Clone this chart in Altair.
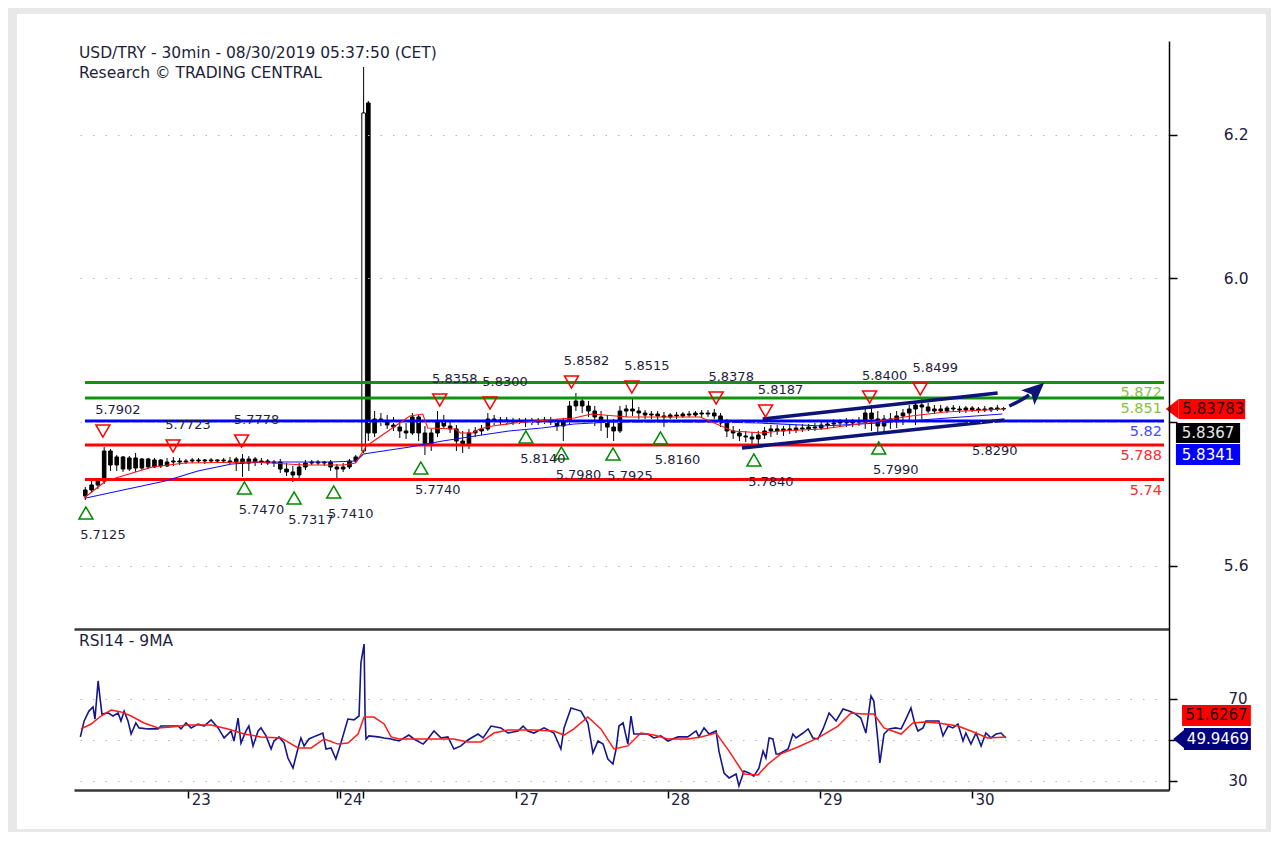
import altair as alt
import pandas as pd

# ---------------- data ----------------
X_MAX = 345                      # x = 30-minute bar number from the left edge
PRICE_DOMAIN = [5.5117, 6.3306]
RSI_DOMAIN = [25.6, 104.15]

candle_x = list(range(2, 90, 2)) + [90.5, 92] + list(range(94, 296, 2))
opens = [5.6969, 5.7053, 5.7123, 5.7178, 5.7596, 5.7401, 5.7513, 5.7345, 5.7499, 5.7359,
         5.7485, 5.7373, 5.7471, 5.7387, 5.7443, 5.7457, 5.7443, 5.7457, 5.7471, 5.7457,
         5.7471, 5.7457, 5.7471, 5.7457, 5.7443, 5.7485, 5.7429, 5.7485, 5.7443, 5.7457,
         5.7429, 5.7443, 5.7345, 5.7304, 5.7262, 5.7373, 5.7429, 5.7443, 5.7429, 5.7443,
         5.7373, 5.7345, 5.7373, 5.7457,
         5.7596, 6.2443,
         5.7847, 5.8042, 5.8014, 5.7958, 5.7930, 5.7875, 5.7847, 5.8070, 5.7847, 5.7680,
         5.7847, 5.8014, 5.7944, 5.7903, 5.7735, 5.7680, 5.7847, 5.7875, 5.7903, 5.8042,
         5.8014, 5.8028, 5.8000, 5.8014, 5.8000, 5.8014, 5.8000, 5.8014, 5.8028, 5.8000,
         5.7944, 5.8014, 5.8223, 5.8292, 5.8223, 5.8153, 5.8070, 5.8014, 5.7930, 5.7875,
         5.8153, 5.8181, 5.8153, 5.8125, 5.8097, 5.8111, 5.8084, 5.8070, 5.8097, 5.8084,
         5.8111, 5.8097, 5.8125, 5.8111, 5.8125, 5.8084, 5.7986, 5.7875, 5.7847, 5.7805,
         5.7791, 5.7763, 5.7819, 5.7875, 5.7903, 5.7875, 5.7903, 5.7889, 5.7916, 5.7903,
         5.7930, 5.7916, 5.7958, 5.7972, 5.7986, 5.8000, 5.7986, 5.8014, 5.8000, 5.8125,
         5.8042, 5.7944, 5.8042, 5.8014, 5.8084, 5.8125, 5.8181, 5.8237, 5.8209, 5.8153,
         5.8181, 5.8153, 5.8195, 5.8181, 5.8167, 5.8195, 5.8167, 5.8181, 5.8167, 5.8195,
         5.8181]
highs = [5.7095, 5.7178, 5.7220, 5.7652, 5.7624, 5.7540, 5.7526, 5.7526, 5.7568, 5.7499,
         5.7499, 5.7499, 5.7485, 5.7499, 5.7513, 5.7499, 5.7485, 5.7499, 5.7499, 5.7485,
         5.7499, 5.7485, 5.7499, 5.7513, 5.7513, 5.7554, 5.7526, 5.7513, 5.7499, 5.7485,
         5.7471, 5.7485, 5.7429, 5.7387, 5.7429, 5.7471, 5.7471, 5.7471, 5.7457, 5.7471,
         5.7415, 5.7429, 5.7485, 5.7540,
         6.2944, 6.2471,
         5.8153, 5.8125, 5.8097, 5.8070, 5.8014, 5.7986, 5.8125, 5.8097, 5.7944, 5.7903,
         5.8153, 5.8097, 5.8014, 5.7958, 5.7875, 5.7903, 5.7930, 5.7958, 5.8125, 5.8097,
         5.8070, 5.8070, 5.8056, 5.8056, 5.8056, 5.8056, 5.8056, 5.8070, 5.8070, 5.8042,
         5.8056, 5.8292, 5.8404, 5.8320, 5.8292, 5.8223, 5.8153, 5.8097, 5.8042, 5.8223,
         5.8237, 5.8320, 5.8209, 5.8167, 5.8153, 5.8153, 5.8139, 5.8125, 5.8139, 5.8139,
         5.8153, 5.8153, 5.8167, 5.8167, 5.8181, 5.8125, 5.8042, 5.7944, 5.7903, 5.7875,
         5.7861, 5.7875, 5.7930, 5.7958, 5.7958, 5.7944, 5.7958, 5.7958, 5.7972, 5.7972,
         5.7986, 5.8000, 5.8028, 5.8042, 5.8042, 5.8056, 5.8042, 5.8070, 5.8181, 5.8237,
         5.8153, 5.8097, 5.8125, 5.8153, 5.8181, 5.8237, 5.8292, 5.8320, 5.8265, 5.8237,
         5.8237, 5.8223, 5.8237, 5.8223, 5.8223, 5.8223, 5.8209, 5.8223, 5.8209, 5.8237,
         5.8209]
lows = [5.6914, 5.7011, 5.7067, 5.7136, 5.7318, 5.7318, 5.7304, 5.7318, 5.7304, 5.7331,
        5.7345, 5.7359, 5.7359, 5.7373, 5.7387, 5.7401, 5.7415, 5.7429, 5.7429, 5.7415,
        5.7429, 5.7429, 5.7429, 5.7415, 5.7318, 5.7234, 5.7318, 5.7387, 5.7401, 5.7401,
        5.7373, 5.7290, 5.7248, 5.7164, 5.7220, 5.7331, 5.7401, 5.7401, 5.7387, 5.7318,
        5.7220, 5.7304, 5.7345, 5.7429,
        5.7568, 5.7735,
        5.7791, 5.7944, 5.7903, 5.7875, 5.7777, 5.7763, 5.7819, 5.7735, 5.7540, 5.7596,
        5.7791, 5.7903, 5.7847, 5.7596, 5.7568, 5.7624, 5.7791, 5.7819, 5.7875, 5.7958,
        5.7958, 5.7958, 5.7958, 5.7972, 5.7930, 5.7958, 5.7958, 5.7972, 5.7958, 5.7875,
        5.7735, 5.7958, 5.8153, 5.8125, 5.8070, 5.7944, 5.7875, 5.7777, 5.7735, 5.7847,
        5.8070, 5.8084, 5.8042, 5.8042, 5.8042, 5.8014, 5.7930, 5.8042, 5.8042, 5.8056,
        5.8070, 5.8070, 5.8070, 5.8070, 5.8042, 5.7930, 5.7791, 5.7763, 5.7735, 5.7721,
        5.7680, 5.7652, 5.7763, 5.7791, 5.7819, 5.7805, 5.7833, 5.7847, 5.7861, 5.7875,
        5.7875, 5.7889, 5.7903, 5.7916, 5.7930, 5.7930, 5.7930, 5.7944, 5.7903, 5.7875,
        5.7833, 5.7847, 5.7903, 5.7916, 5.7958, 5.8014, 5.7958, 5.8042, 5.8125, 5.8111,
        5.8125, 5.8125, 5.8139, 5.8125, 5.8125, 5.8139, 5.8125, 5.8139, 5.8139, 5.8153,
        5.8153]
closes = [5.7053, 5.7123, 5.7178, 5.7596, 5.7401, 5.7513, 5.7345, 5.7499, 5.7359, 5.7485,
          5.7373, 5.7471, 5.7387, 5.7443, 5.7457, 5.7443, 5.7457, 5.7471, 5.7457, 5.7471,
          5.7457, 5.7471, 5.7457, 5.7443, 5.7485, 5.7429, 5.7485, 5.7443, 5.7457, 5.7429,
          5.7443, 5.7345, 5.7304, 5.7262, 5.7373, 5.7429, 5.7443, 5.7429, 5.7443, 5.7373,
          5.7345, 5.7373, 5.7457, 5.7513,
          6.2304, 5.7847,
          5.8042, 5.8014, 5.7958, 5.7930, 5.7875, 5.7847, 5.8070, 5.7847, 5.7680, 5.7847,
          5.8014, 5.7944, 5.7903, 5.7735, 5.7680, 5.7847, 5.7875, 5.7903, 5.8042, 5.8014,
          5.8028, 5.8000, 5.8014, 5.8000, 5.8014, 5.8000, 5.8014, 5.8028, 5.8000, 5.7944,
          5.8014, 5.8223, 5.8292, 5.8223, 5.8153, 5.8070, 5.8014, 5.7930, 5.7875, 5.8153,
          5.8181, 5.8153, 5.8125, 5.8097, 5.8111, 5.8084, 5.8070, 5.8097, 5.8084, 5.8111,
          5.8097, 5.8125, 5.8111, 5.8125, 5.8084, 5.7986, 5.7875, 5.7847, 5.7805, 5.7791,
          5.7763, 5.7819, 5.7875, 5.7903, 5.7875, 5.7903, 5.7889, 5.7916, 5.7903, 5.7930,
          5.7916, 5.7958, 5.7972, 5.7986, 5.8000, 5.7986, 5.8014, 5.8000, 5.8125, 5.8042,
          5.7944, 5.8042, 5.8014, 5.8084, 5.8125, 5.8181, 5.8237, 5.8209, 5.8153, 5.8181,
          5.8153, 5.8195, 5.8181, 5.8167, 5.8195, 5.8167, 5.8181, 5.8167, 5.8195, 5.8181,
          5.8188]

ma_red_x = [1.6, 8.5, 23.3, 33.7, 55.8, 71.5, 84.1, 87.9, 91.4, 105.2, 109.3, 110.9, 119.7,
            121.3, 125.1, 127.3, 131.4, 138.6, 152.5, 157.5, 162.9, 174.5, 197.5, 207.9,
            217.4, 222.7, 236.3, 250.2, 264.6, 275.4, 294.3]
ma_red_y = [5.6942, 5.7178, 5.7373, 5.7429, 5.7443, 5.7401, 5.7401, 5.7429, 5.7666, 5.8084,
            5.8111, 5.7916, 5.7903, 5.7847, 5.7847, 5.7903, 5.7944, 5.7986, 5.8042, 5.8056,
            5.8111, 5.8070, 5.8070, 5.7875, 5.7847, 5.7875, 5.7903, 5.7986, 5.8084, 5.8139,
            5.8181]
ma_blue_x = [2.2, 17.0, 27.4, 37.8, 48.5, 58.9, 80.0, 88.2, 90.4, 105.2, 115.6, 126.0, 136.7,
             147.1, 157.5, 169.2, 201.6, 216.4, 236.3, 254.3, 276.3, 293.6]
ma_blue_y = [5.6942, 5.7081, 5.7178, 5.7318, 5.7415, 5.7443, 5.7443, 5.7457, 5.7554, 5.7652,
             5.7735, 5.7805, 5.7875, 5.7916, 5.7972, 5.8000, 5.8000, 5.7986, 5.7944, 5.7986,
             5.8056, 5.8111]

level_start = 1.9
level_values = [5.8550, 5.8334, 5.8014, 5.7680, 5.7199]
level_labels = ["5.872", "5.851", "5.82", "5.788", "5.74"]
level_line_colors = ["#0c960c", "#0c960c", "#0000ff", "#ff0000", "#ff0000"]
level_text_colors = ["#86c240", "#86c240", "#4848ff", "#ff2a2a", "#ff2a2a"]

hi_x = [7.6, 29.9, 51.7, 114.7, 130.7, 156.6, 175.8, 202.6, 218.3, 251.4, 267.5]
hi_y = [5.7875, 5.7666, 5.7735, 5.8306, 5.8265, 5.8557, 5.8487, 5.8334, 5.8153, 5.8348, 5.8460]
hi_text = ["5.7902", "5.7723", "5.7778", "5.8358", "5.8300", "5.8582", "5.8515", "5.8378",
           "5.8187", "5.8400", "5.8499"]
lo_x = [2.2, 52.6, 68.4, 81.0, 108.7, 142.1, 153.4, 169.8, 184.9, 214.6, 254.3]
lo_y = [5.6733, 5.7081, 5.6942, 5.7025, 5.7359, 5.7791, 5.7568, 5.7554, 5.7777, 5.7471, 5.7638]
lo_text = ["5.7125", "5.7470", "5.7317", "5.7410", "5.7740", "5.8140", "5.7980", "5.7925",
           "5.8160", "5.7840", "5.7990"]
extra_x = [285.8]
extra_y = [5.7903]
extra_text = ["5.8290"]

channel_x = [217.4, 292.1, 210.8, 294.3]
channel_y = [5.8042, 5.8404, 5.7638, 5.8028]
channel_id = ["upper", "upper", "lower", "lower"]
arrow_x = [295.8, 299.0, 302.1]
arrow_y = [5.8223, 5.8292, 5.8376]
arrow_head_x = [304.3]
arrow_head_y = [5.8443]

tag_text = ["5.83783", "5.8367", "5.8341"]
tag_x = [349.7, 348.8, 348.8]
tag_x2 = [370.8, 369.2, 369.2]
tag_y = [5.8320, 5.7986, 5.7694]
tag_y2 = [5.8042, 5.7708, 5.7401]
tag_tx = [360.7, 359.0, 359.0]
tag_ty = [5.8181, 5.7847, 5.7547]
tag_fill = ["#ff0000", "#000000", "#0000ff"]
tag_color = ["#2a0000", "#e6e6e6", "#ffffff"]
tag_arrow_x = [347.6]
tag_arrow_y = [5.8181]

rsi_x = [2.0, 3.2, 4.7, 6.0, 6.6, 7.6, 8.2, 8.8, 10.7, 12.3,
         13.9, 14.8, 15.8, 17.0, 18.0, 19.5, 20.5, 23.3, 26.5, 27.4,
         29.6, 32.8, 33.7, 35.3, 36.9, 39.1, 41.0, 43.2, 45.4, 47.3,
         49.5, 50.4, 51.7, 52.6, 54.2, 55.1, 56.4, 58.0, 58.9, 60.5,
         62.1, 63.0, 64.6, 66.2, 67.4, 69.0, 70.6, 71.5, 72.5, 74.0,
         76.2, 78.4, 79.4, 81.0, 82.5, 84.1, 86.3, 88.2, 89.8, 90.4,
         91.4, 91.7, 92.0, 92.9, 95.8, 97.7, 99.9, 102.4, 105.5, 107.1,
         110.0, 111.5, 113.4, 115.6, 117.8, 119.7, 121.9, 124.1, 127.3, 128.9,
         131.4, 134.5, 136.7, 139.9, 141.5, 143.0, 144.9, 148.1, 151.2, 153.4,
         154.4, 156.6, 159.7, 161.9, 163.5, 165.1, 166.7, 168.2, 169.8, 170.8,
         171.7, 173.0, 174.5, 175.5, 176.4, 178.6, 180.8, 182.7, 184.9, 187.1,
         190.3, 193.4, 196.0, 196.9, 198.5, 200.1, 202.3, 203.2, 204.8, 206.4,
         208.6, 209.5, 211.1, 212.7, 214.2, 215.8, 217.1, 218.0, 219.0, 220.2,
         221.2, 222.1, 225.0, 226.5, 227.5, 229.7, 231.3, 232.8, 234.4, 236.0,
         237.9, 240.1, 242.3, 244.2, 245.7, 247.9, 249.5, 251.1, 252.0, 253.3,
         253.9, 255.2, 256.8, 258.9, 260.6, 262.1, 263.7, 264.7, 265.9, 267.5,
         268.4, 271.0, 272.5, 273.8, 275.4, 276.9, 278.5, 280.1, 281.0, 282.6,
         284.2, 285.8, 287.3, 288.9, 290.5, 292.1, 293.6]
rsi_v = [51.5, 59.3, 64.1, 66.1, 60.2, 78.8, 70.5, 62.7, 63.2, 61.7,
         63.2, 59.3, 64.1, 59.3, 52.9, 58.3, 55.9, 55.4, 55.4, 56.8,
         56.8, 56.8, 55.4, 58.3, 55.9, 57.8, 56.8, 59.8, 55.9, 51.0,
         54.4, 49.5, 60.7, 48.5, 54.4, 56.8, 47.1, 54.4, 55.9, 52.0,
         45.6, 49.5, 51.5, 48.5, 41.2, 36.3, 46.1, 51.0, 47.1, 50.5,
         52.0, 53.4, 45.6, 46.1, 40.7, 48.5, 60.2, 59.8, 61.7, 87.6,
         96.8, 62.7, 50.5, 52.0, 51.5, 51.0, 50.5, 49.5, 52.4, 50.5,
         48.0, 50.5, 54.4, 51.0, 51.5, 45.6, 47.1, 50.0, 52.9, 51.0,
         56.8, 55.9, 53.4, 54.4, 56.8, 54.4, 53.4, 55.9, 53.4, 45.6,
         55.9, 65.6, 64.1, 58.3, 43.7, 49.5, 48.0, 40.7, 38.3, 45.6,
         56.8, 58.3, 48.0, 61.7, 52.9, 52.9, 52.9, 51.0, 52.0, 49.5,
         51.5, 51.5, 54.4, 51.5, 55.9, 52.9, 54.4, 44.6, 33.9, 31.5,
         33.4, 27.6, 34.9, 33.9, 32.4, 36.3, 44.6, 41.2, 51.0, 50.5,
         43.2, 43.2, 45.6, 52.9, 51.0, 53.4, 55.4, 51.0, 50.5, 55.4,
         63.2, 59.3, 65.1, 64.1, 63.2, 60.7, 53.4, 71.5, 69.0, 49.5,
         38.8, 52.9, 55.4, 55.9, 55.4, 60.2, 65.6, 59.3, 54.4, 55.9,
         59.3, 59.3, 59.3, 52.0, 56.8, 55.9, 57.8, 49.5, 53.4, 48.0,
         53.4, 47.1, 53.4, 51.0, 52.9, 53.4, 51.0]
rsi_ma_x = [2.2, 5.4, 8.5, 11.7, 14.8, 18.0, 22.1, 26.5, 30.6, 35.9,
            43.2, 48.5, 53.6, 58.9, 65.2, 70.6, 74.7, 78.8, 83.2, 86.3,
            89.5, 91.4, 94.5, 97.7, 99.9, 102.4, 113.4, 119.7, 124.1, 128.2,
            132.3, 136.7, 144.9, 151.2, 154.4, 157.5, 161.9, 166.0, 170.1, 174.5,
            178.6, 182.7, 187.1, 193.4, 197.5, 202.3, 206.4, 211.1, 215.5, 218.7,
            222.7, 228.1, 234.4, 240.7, 244.8, 248.9, 252.0, 255.2, 260.6, 264.3,
            267.8, 272.2, 278.5, 282.6, 287.9, 293.6]
rsi_ma_v = [55.4, 57.8, 61.7, 64.6, 63.7, 61.7, 58.3, 55.9, 56.3, 57.3,
            57.3, 55.4, 52.9, 51.5, 51.0, 46.1, 46.1, 50.5, 48.0, 48.5,
            52.9, 61.2, 61.2, 57.8, 51.5, 50.5, 50.5, 50.5, 49.0, 49.0,
            53.4, 54.9, 54.9, 54.4, 52.4, 55.4, 61.2, 55.4, 45.6, 47.1,
            53.4, 52.4, 50.5, 50.5, 51.5, 53.4, 44.6, 33.4, 32.9, 38.3,
            43.2, 46.6, 51.0, 56.8, 63.2, 62.7, 62.7, 55.9, 52.9, 58.3,
            58.8, 58.3, 56.8, 54.4, 51.0, 51.5]

rsi_tag_text = ["51.6267", "49.9469"]
rsi_tag_x = [349.1, 349.7]
rsi_tag_x2 = [370.8, 370.8]
rsi_tag_y = [67.07, 55.85]
rsi_tag_y2 = [56.83, 45.12]
rsi_tag_tx = [360.0, 360.4]
rsi_tag_ty = [61.95, 50.49]
rsi_tag_fill = ["#ff0000", "#000080"]
rsi_tag_color = ["#1a0000", "#ffffff"]
rsi_tag_arrow_x = [348.4]
rsi_tag_arrow_y = [50.49]

price_ticks = [5.6, 5.8, 6.0, 6.2]
rsi_ticks = [30, 50, 70]
day_tick_pos = [36.0, 82.9, 83.8, 91.1, 139.3, 187.0, 235.0, 282.9]
day_tick_text = ["23", "", "24", "", "27", "28", "29", "30"]

TITLE_1 = "USD/TRY - 30min - 08/30/2019 05:37:50 (CET)"
TITLE_2 = "Research \u00a9 TRADING CENTRAL"
RSI_TITLE = "RSI14 - 9MA"

# ---------------- styling ----------------
FONT = "DejaVu Sans"
NAVY = "#0c1478"
TXT = "#1e1e3c"
W, H_MAIN, H_RSI = 1095, 588, 161

n = len(candle_x)
assert len(opens) == n and len(highs) == n and len(lows) == n and len(closes) == n
assert len(rsi_x) == len(rsi_v) and len(rsi_ma_x) == len(rsi_ma_v)

xscale = alt.Scale(domain=[0, X_MAX], nice=False, zero=False)
pscale = alt.Scale(domain=PRICE_DOMAIN, nice=False, zero=False)
rscale = alt.Scale(domain=RSI_DOMAIN, nice=False, zero=False)

ax_main_x = alt.Axis(orient="bottom", labels=False, ticks=False, grid=False,
                     domainColor="#383838", domainWidth=2.5, title=None, zindex=1)
ax_main_y = alt.Axis(orient="right", values=price_ticks,
                     labelExpr="datum.value == 5.8 ? '' : format(datum.value, '.1f')",
                     grid=True, gridDash=[1.5, 11], gridColor="#b8b8b8", gridWidth=1.2,
                     tickSize=8, tickColor="#000000", tickWidth=1.5,
                     domainColor="#000000", domainWidth=1.5,
                     labelAlign="right", labelPadding=71, labelFontSize=15.5,
                     labelColor="#202040", labelFont=FONT, title=None, zindex=1)

day_expr = " : ".join(f"datum.value == {p} ? '{t}'" for p, t in zip(day_tick_pos, day_tick_text)) + " : ''"
ax_rsi_x = alt.Axis(orient="bottom", values=day_tick_pos, labelExpr=day_expr,
                    grid=False, tickSize=8, tickColor="#000000", tickWidth=1.5,
                    domainColor="#383838", domainWidth=2.5,
                    labelAlign="left", labelBaseline="top", labelPadding=-6, labelOffset=3,
                    labelFontSize=15, labelColor="#202040", labelFont=FONT,
                    labelOverlap=False, labelFlush=False, labelBound=False, title=None)
ax_rsi_y = alt.Axis(orient="right", values=rsi_ticks,
                    labelExpr="datum.value == 50 ? '' : format(datum.value, 'd')",
                    grid=True, gridDash=[1.5, 11], gridColor="#b8b8b8", gridWidth=1.2,
                    tickSize=8, tickColor="#000000", tickWidth=1.5,
                    domainColor="#000000", domainWidth=1.5,
                    labelAlign="right", labelPadding=70, labelFontSize=15,
                    labelColor="#202040", labelFont=FONT, title=None)


def mx(f):
    return alt.X(f, type="quantitative", scale=xscale, axis=ax_main_x)


def my(f):
    return alt.Y(f, type="quantitative", scale=pscale, axis=ax_main_y)


def rx(f):
    return alt.X(f, type="quantitative", scale=xscale, axis=ax_rsi_x)


def ry(f):
    return alt.Y(f, type="quantitative", scale=rscale, axis=ax_rsi_y)


one = pd.DataFrame({"k": [0]})

# ---------------- main panel ----------------
bg = alt.Chart(one).mark_rect(color="#ffffff").encode(
    x=alt.value(-57), x2=alt.value(1192), y=alt.value(-27), y2=alt.value(788))

cd = pd.DataFrame({"x": candle_x, "open": opens, "high": highs, "low": lows, "close": closes})
wicks = alt.Chart(cd).mark_rule(color="#000000", strokeWidth=1).encode(
    x=mx("x"), y=my("low"), y2="high")
# at this density the hollow (up) candles read as solid black except the wide spike bar
bodies = alt.Chart(cd).mark_bar(stroke="#000000", strokeWidth=1, size=3.6).encode(
    x=mx("x"), y=my("open"), y2="close",
    fill=alt.condition("datum.close >= datum.open && datum.high - datum.low > 0.1",
                       alt.value("#ffffff"), alt.value("#000000")))

lev = pd.DataFrame({"x": [level_start] * len(level_values), "x2": [X_MAX] * len(level_values),
                    "y": level_values, "label": level_labels,
                    "lc": level_line_colors, "tc": level_text_colors})
lev_lines = alt.Chart(lev).mark_rule(strokeWidth=3).encode(
    x=mx("x"), x2="x2", y=my("y"), color=alt.Color("lc:N", scale=None))
lev_text = alt.Chart(lev).mark_text(align="right", baseline="middle", dx=-2, dy=11,
                                    fontSize=14.5, font=FONT).encode(
    x=mx("x2"), y=my("y"), text="label:N", color=alt.Color("tc:N", scale=None))

ma_blue = alt.Chart(pd.DataFrame({"x": ma_blue_x, "y": ma_blue_y})).mark_line(
    color="#1010ff", strokeWidth=1.1).encode(x=mx("x"), y=my("y"))
ma_red = alt.Chart(pd.DataFrame({"x": ma_red_x, "y": ma_red_y})).mark_line(
    color="#ff1010", strokeWidth=1.1).encode(x=mx("x"), y=my("y"))

chan = alt.Chart(pd.DataFrame({"x": channel_x, "y": channel_y, "id": channel_id})).mark_line(
    color=NAVY, strokeWidth=3.5).encode(x=mx("x"), y=my("y"), detail="id:N")
arrow = alt.Chart(pd.DataFrame({"x": arrow_x, "y": arrow_y})).mark_line(
    color=NAVY, strokeWidth=3.5, interpolate="monotone").encode(x=mx("x"), y=my("y"))
arrow_head = alt.Chart(pd.DataFrame({"x": arrow_head_x, "y": arrow_head_y})).mark_point(
    shape="M0,-1L0.9,1L0,0.55L-0.9,1Z", filled=True, size=484, angle=48,
    color=NAVY, opacity=1).encode(x=mx("x"), y=my("y"))

hi = pd.DataFrame({"x": hi_x, "y": hi_y, "t": hi_text})
lo = pd.DataFrame({"x": lo_x, "y": lo_y, "t": lo_text})
ex = pd.DataFrame({"x": extra_x, "y": extra_y, "t": extra_text})
hi_tri = alt.Chart(hi).mark_point(shape="triangle-down", filled=False, size=196,
                                  color="#ff0000", strokeWidth=1.5, opacity=1).encode(
    x=mx("x"), y=my("y"))
lo_tri = alt.Chart(lo).mark_point(shape="triangle-up", filled=False, size=196,
                                  color="#008a00", strokeWidth=1.5, opacity=1).encode(
    x=mx("x"), y=my("y"))
hi_lab = alt.Chart(hi).mark_text(dx=15, dy=-21, fontSize=13, font=FONT, color=TXT).encode(
    x=mx("x"), y=my("y"), text="t:N")
lo_lab = alt.Chart(lo).mark_text(dx=17, dy=22, fontSize=13, font=FONT, color=TXT).encode(
    x=mx("x"), y=my("y"), text="t:N")
ex_lab = alt.Chart(ex).mark_text(dx=17, dy=22, fontSize=13, font=FONT, color=TXT).encode(
    x=mx("x"), y=my("y"), text="t:N")

tags = pd.DataFrame({"x": tag_x, "x2": tag_x2, "y": tag_y, "y2": tag_y2, "tx": tag_tx,
                     "ty": tag_ty, "t": tag_text, "f": tag_fill, "c": tag_color})
tag_rect = alt.Chart(tags).mark_rect().encode(
    x=mx("x"), x2="x2", y=my("y"), y2="y2", color=alt.Color("f:N", scale=None))
tag_txt = alt.Chart(tags).mark_text(fontSize=15, font=FONT, baseline="middle").encode(
    x=mx("tx"), y=my("ty"), text="t:N", color=alt.Color("c:N", scale=None))
tag_arrow = alt.Chart(pd.DataFrame({"x": tag_arrow_x, "y": tag_arrow_y})).mark_point(
    shape="M-0.65,0L0.65,-1L0.65,1Z", filled=True, size=400, color="#ff0000",
    opacity=1).encode(x=mx("x"), y=my("y"))

title1 = alt.Chart(one).mark_text(align="left", baseline="middle", fontSize=15.5, font=FONT,
                                  color=TXT).encode(
    x=alt.value(5), y=alt.value(12), text=alt.value(TITLE_1))
title2 = alt.Chart(one).mark_text(align="left", baseline="middle", fontSize=15.5, font=FONT,
                                  color=TXT).encode(
    x=alt.value(5), y=alt.value(32), text=alt.value(TITLE_2))

main = alt.layer(
    bg, wicks, bodies, lev_lines, ma_blue, ma_red, chan, arrow, arrow_head,
    hi_tri, lo_tri, hi_lab, lo_lab, ex_lab, lev_text,
    tag_rect, tag_arrow, tag_txt, title1, title2
).resolve_scale(color="independent").properties(width=W, height=H_MAIN)

# ---------------- RSI panel ----------------
rsi_line = alt.Chart(pd.DataFrame({"x": rsi_x, "y": rsi_v})).mark_line(
    color="#16168c", strokeWidth=1.6).encode(x=rx("x"), y=ry("y"))
rsi_ma = alt.Chart(pd.DataFrame({"x": rsi_ma_x, "y": rsi_ma_v})).mark_line(
    color="#ff1a1a", strokeWidth=1.5).encode(x=rx("x"), y=ry("y"))
rtags = pd.DataFrame({"x": rsi_tag_x, "x2": rsi_tag_x2, "y": rsi_tag_y, "y2": rsi_tag_y2,
                      "tx": rsi_tag_tx, "ty": rsi_tag_ty, "t": rsi_tag_text,
                      "f": rsi_tag_fill, "c": rsi_tag_color})
rtag_rect = alt.Chart(rtags).mark_rect().encode(
    x=rx("x"), x2="x2", y=ry("y"), y2="y2", color=alt.Color("f:N", scale=None))
rtag_txt = alt.Chart(rtags).mark_text(fontSize=15, font=FONT, baseline="middle").encode(
    x=rx("tx"), y=ry("ty"), text="t:N", color=alt.Color("c:N", scale=None))
rtag_arrow = alt.Chart(pd.DataFrame({"x": rsi_tag_arrow_x, "y": rsi_tag_arrow_y})).mark_point(
    shape="M-0.6,0L0.6,-1L0.6,1Z", filled=True, size=484, color="#000080",
    opacity=1).encode(x=rx("x"), y=ry("y"))
rsi_title = alt.Chart(one).mark_text(align="left", baseline="middle", fontSize=15.5, font=FONT,
                                     color=TXT).encode(
    x=alt.value(5), y=alt.value(12), text=alt.value(RSI_TITLE))

rsi = alt.layer(
    rsi_line, rsi_ma, rtag_rect, rtag_arrow, rtag_txt, rsi_title
).resolve_scale(color="independent").properties(width=W, height=H_RSI)

chart = alt.vconcat(main, rsi, spacing=0, bounds="flush").properties(
    padding={"left": 8, "top": 5, "right": 4, "bottom": 2},
    background="#e8e8e8",
).configure_view(stroke="transparent")

chart.save("out.html", embed_options={"renderer": "svg", "actions": False})
